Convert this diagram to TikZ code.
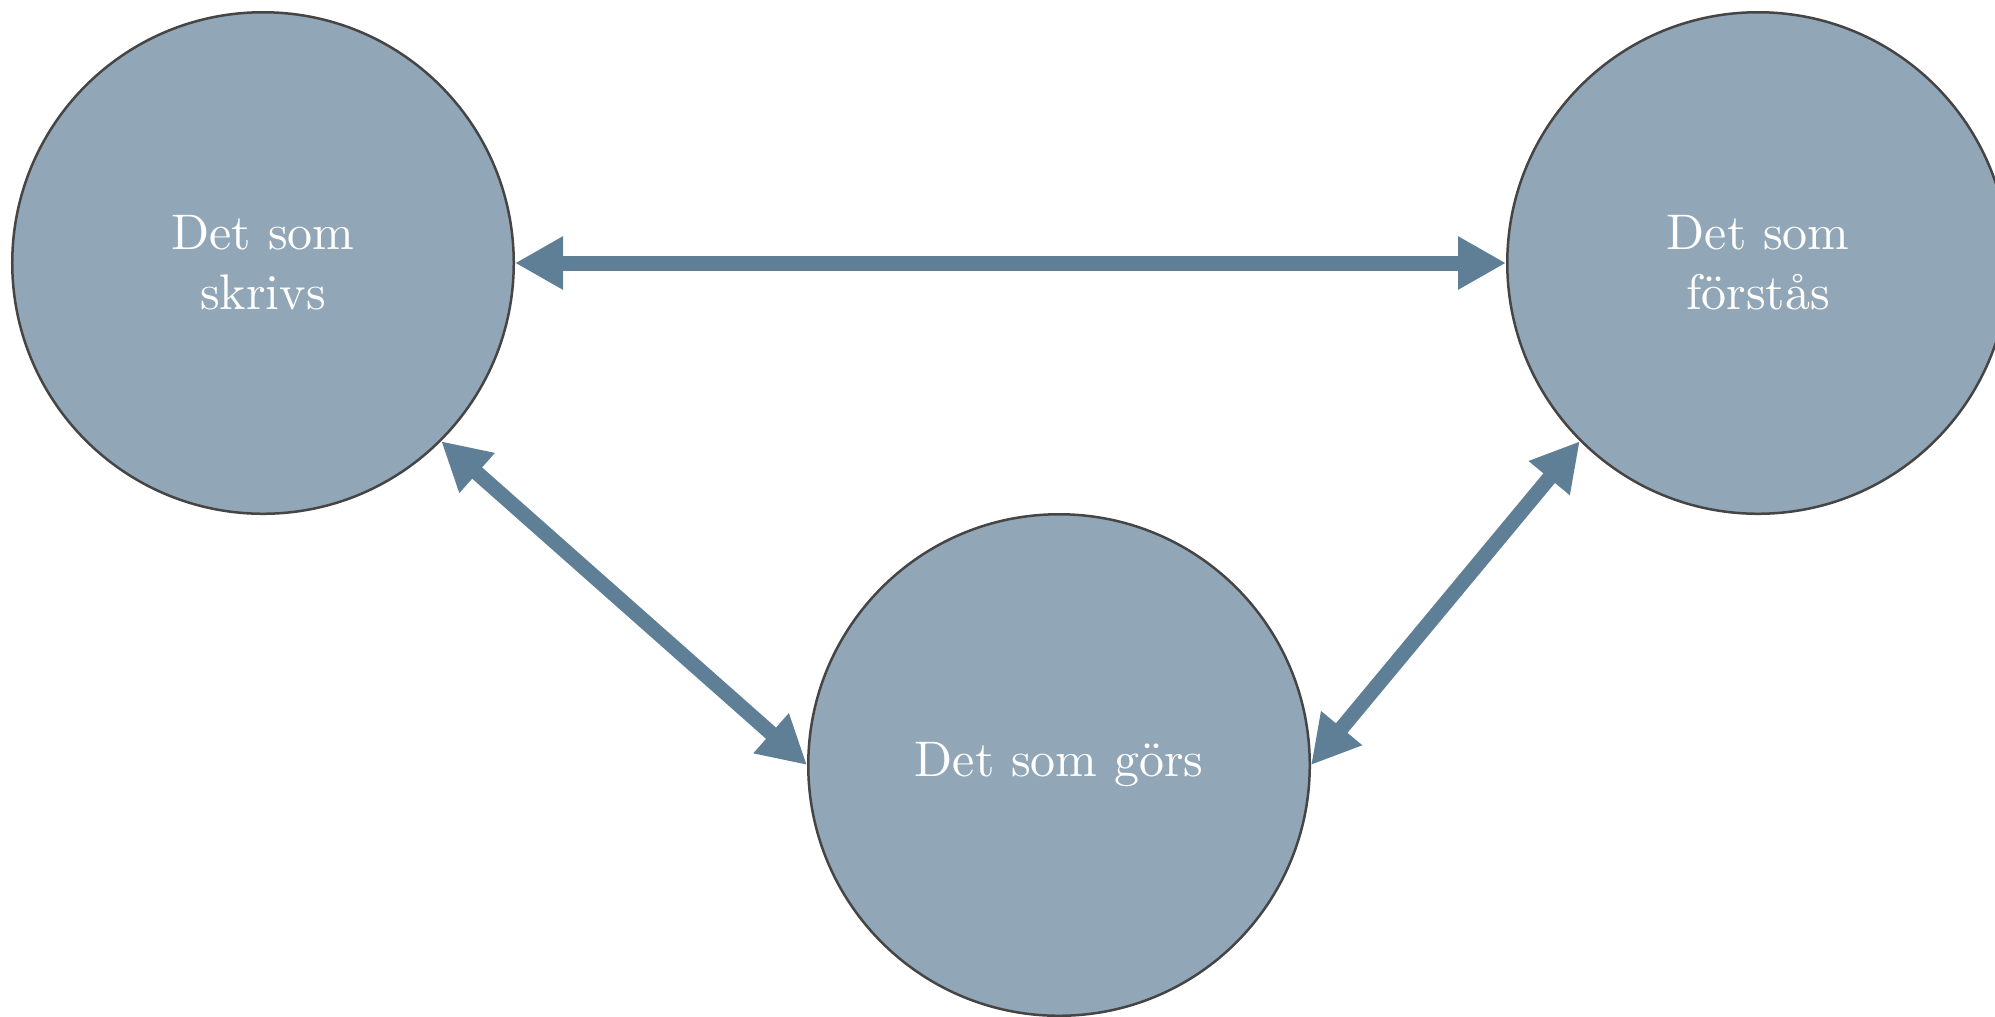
\documentclass[tikz,border=0pt]{standalone}
\usetikzlibrary{arrows.meta}
\definecolor{nodefill}{HTML}{91A6B6}
\definecolor{nodeline}{HTML}{454545}
\definecolor{linkcol}{HTML}{5F7F96}
\tikzset{
  topic/.style={circle, draw=nodeline, line width=0.5pt, fill=nodefill,
    minimum size=100.3pt, inner sep=0pt, text=white, align=center},
  link/.style={draw=linkcol, line width=3pt,
    {Triangle[length=9.6pt,width=10pt]}-{Triangle[length=9.6pt,width=10pt]}}
}
\begin{document}
\begin{tikzpicture}[x=0.2pt, y=-0.2pt]
  \clip (0,0) rectangle (1995,1016);
  \node[topic] (skrivs) at (263,263) {Det som\\skrivs};
  \node[topic] (forstas) at (1758,263) {Det som\\förstås};
  \node[topic] (gors) at (1059,765) {Det som görs};
  \draw[link] (skrivs.east) -- (forstas.west);
  \draw[link] (skrivs.south east) -- (gors.west);
  \draw[link] (forstas.south west) -- (gors.east);
\end{tikzpicture}
\end{document}
